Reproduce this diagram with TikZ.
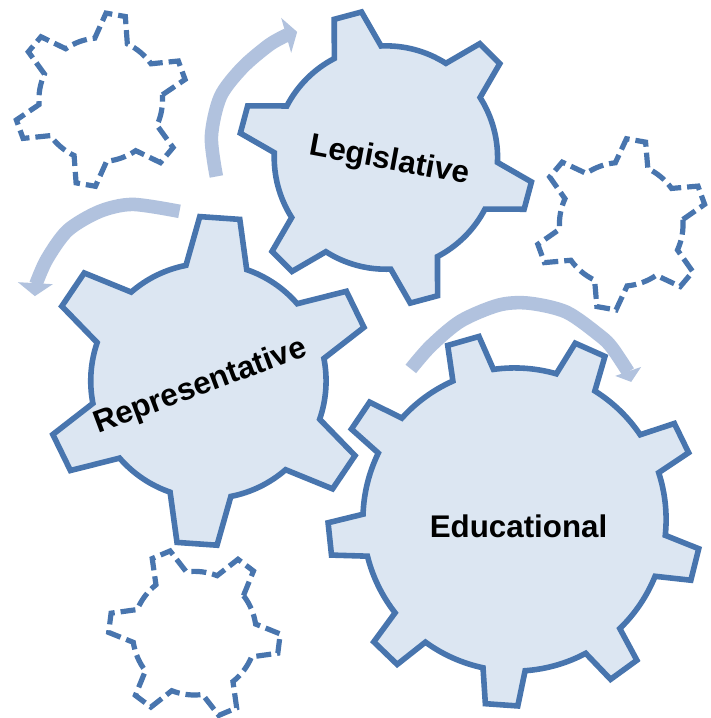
\documentclass[tikz,border=0pt]{standalone}
\usepackage{fontspec}
\setmainfont{Liberation Sans}

\definecolor{gearline}{RGB}{72,117,174}
\definecolor{gearfill}{RGB}{220,230,242}
\definecolor{arrowblue}{RGB}{177,194,222}

\tikzset{
  solidgear/.style={draw=gearline, fill=gearfill, line width=2.8pt},
  dashgear/.style={draw=gearline, line width=2.6pt, dash pattern=on 7.5pt off 3pt},
  turnarrow/.style={draw=arrowblue, line width=6.8pt},
  turnhead/.style={fill=arrowblue},
  gearlabel/.style={font={\bfseries\fontsize{15.7}{18}\selectfont}, inner sep=0pt}
}

\begin{document}
\begin{tikzpicture}[x=0.5pt, y=0.5pt]
  \fill[white] (0,0) rectangle (713,718);
  % gears: x / y / teeth / first tooth / body radius / tip radius / half base / half tip / style
  \foreach \gx/\gy/\gn/\go/\gr/\gt/\gb/\ga/\gs in {
      387/560/6/45/112/148/12.5/5.5/solidgear,
      209/336/6/26/118/165/15/7/solidgear,
      516/197/9/26/152/187/8/5/solidgear,
      101/618/6/20/62/87/15.5/6.5/dashgear,
      623/493/6/20/62/86/15.5/6.5/dashgear,
      195/83/6/53/62/86/15.5/6.5/dashgear} {
    \pgfmathsetmacro{\da}{360/\gn}
    \pgfmathtruncatemacro{\gm}{\gn-1}
    \begin{scope}[shift={(\gx,\gy)}]
      \draw[\gs] (\go-\gb:\gr)
        \foreach \k [evaluate=\k as \th using \go+\k*\da] in {0,...,\gm} {
          -- (\th-\ga:\gt) -- (\th+\ga:\gt) -- (\th+\gb:\gr)
          arc[start angle=\th+\gb, end angle=\th+\da-\gb, radius={0.5pt*\gr}]
        } -- cycle;
    \end{scope}
  }
  % turning arrows
  \draw[turnarrow] plot[smooth] coordinates {(217,541) (212,581) (221,621) (243,650) (270,673) (288,683)};
  \fill[turnhead] (282,700) -- (298,686) -- (292,665) -- cycle;
  \draw[turnarrow] plot[smooth] coordinates {(180,506) (133,513) (100,506) (68,487) (47,458) (36,433)};
  \fill[turnhead] (18,435) -- (35,421) -- (53,433) -- cycle;
  \draw[turnarrow] plot[smooth] coordinates {(412,348) (432,371) (462,396) (500,412) (530,414) (568,405) (602,381) (614,369) (630,345)};
  \fill[turnhead] (617,341) -- (633,335) -- (643,350) -- cycle;
  % gear labels
  \node[gearlabel, rotate=-10.5] (legislative) at (390.5,556) {Legislative};
  \node[gearlabel, rotate=20.5] (representative) at (201,330) {Representative};
  \node[gearlabel] (educational) at (520,190) {Educational};
\end{tikzpicture}
\end{document}
